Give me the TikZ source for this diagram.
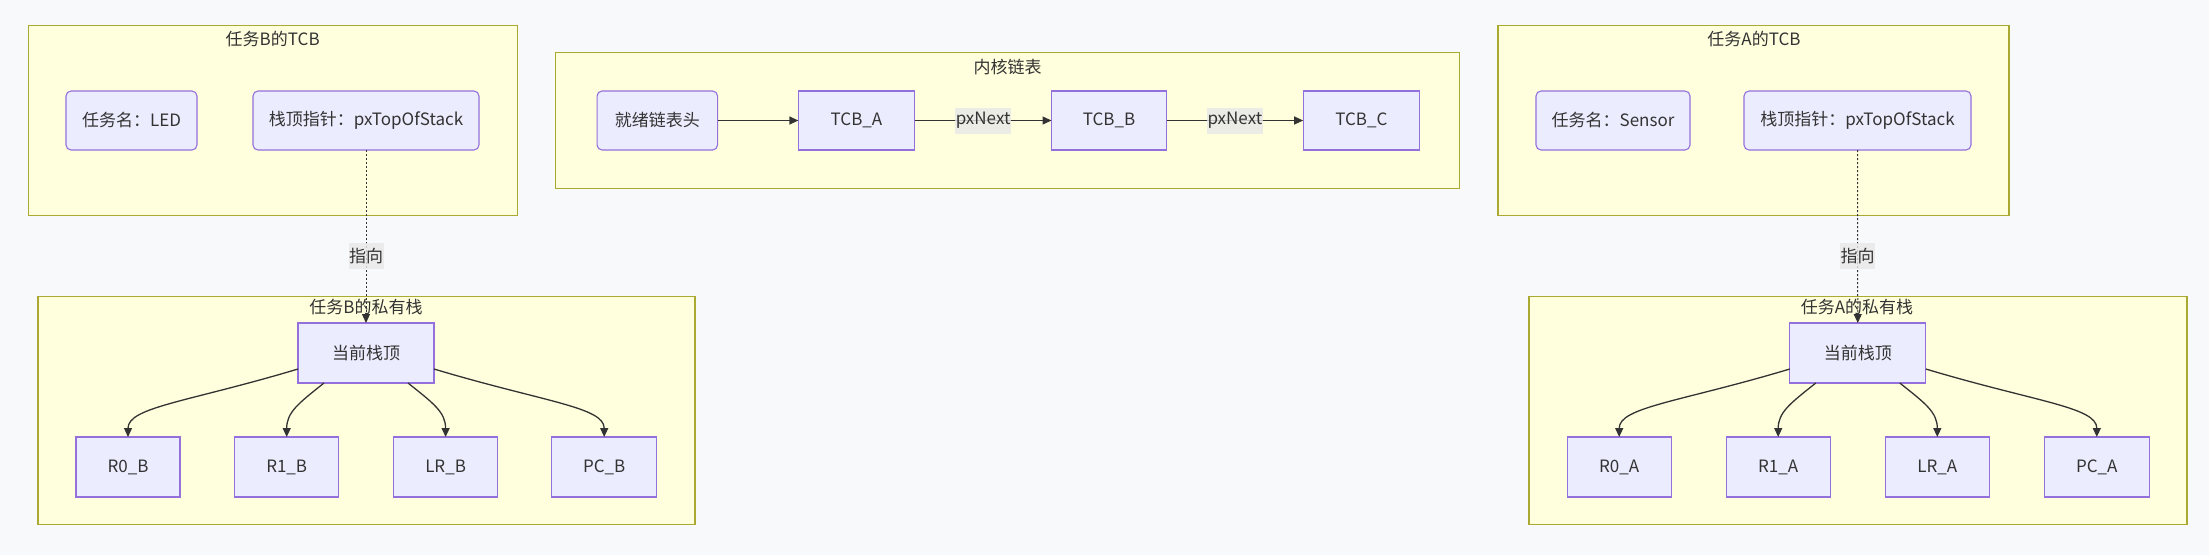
\documentclass[tikz,border=0pt]{standalone}
\usepackage{fontspec}
\setmainfont{Noto Sans CJK SC}
\usetikzlibrary{arrows.meta}
\definecolor{bgc}{HTML}{F8F9FA}
\definecolor{clfill}{HTML}{FFFFDE}
\definecolor{cldraw}{HTML}{AAAA33}
\definecolor{ndfill}{HTML}{ECECFF}
\definecolor{nddraw}{HTML}{9370DB}
\definecolor{edgec}{HTML}{333333}
\definecolor{txtc}{HTML}{333333}
\definecolor{lblbg}{HTML}{E8E8E8}
\begin{document}
\begin{tikzpicture}[x=1pt,y=-1pt,
  base/.style={inner sep=0pt, outer sep=0pt, text=txtc, font=\fontsize{17pt}{20pt}\selectfont},
  cluster/.style={base, draw=cldraw, fill=clfill, line width=1.1pt},
  ctitle/.style={base},
  box/.style={base, draw=nddraw, fill=ndfill, line width=1.1pt, minimum height=59pt},
  rbox/.style={box, rounded corners=5pt},
  edge/.style={draw=edgec, line width=1.3pt, -{Triangle[length=9pt,width=8pt]}},
  dotedge/.style={draw=edgec, line width=1pt, dash pattern=on 2pt off 2pt, -{Triangle[length=9pt,width=8pt]}},
  lbl/.style={base, fill=lblbg, fill opacity=0.8, text opacity=1, inner xsep=0.5pt, minimum height=26pt}
]
\fill[bgc] (0,0) rectangle (2209,555);
\useasboundingbox (0,0) rectangle (2209,555);

% ---- clusters ----
\node[cluster, minimum width=489pt, minimum height=190pt] (cTB) at (272.9,120.5) {};
\node[ctitle] (tTB) at (272.7,39) {任务B的TCB};
\node[cluster, minimum width=657pt, minimum height=228pt] (cSB) at (366.5,410.2) {};
\node[ctitle] (tSB) at (366,307) {任务B的私有栈};
\node[cluster, minimum width=904pt, minimum height=135.6pt] (cK) at (1007.6,120.5) {};
\node[ctitle] (tK) at (1007.6,67) {内核链表};
\node[cluster, minimum width=511pt, minimum height=190pt] (cTA) at (1753.5,120.5) {};
\node[ctitle] (tTA) at (1754,39) {任务A的TCB};
\node[cluster, minimum width=658pt, minimum height=228pt] (cSA) at (1858,410.2) {};
\node[ctitle] (tSA) at (1857,307) {任务A的私有栈};

% ---- task B TCB ----
\node[rbox, minimum width=131pt] (nameB) at (131.5,120.5) {任务名：LED};
\node[rbox, minimum width=226pt] (topB) at (366,120.5) {栈顶指针：pxTopOfStack};

% ---- task B stack ----
\node[box, minimum width=136pt, minimum height=60pt] (curB) at (366,353) {当前栈顶};
\node[box, minimum width=104pt, minimum height=60pt] (r0B) at (128,467) {R0\_B};
\node[box, minimum width=104pt, minimum height=60pt] (r1B) at (286.7,467) {R1\_B};
\node[box, minimum width=104pt, minimum height=60pt] (lrB) at (445.6,467) {LR\_B};
\node[box, minimum width=105pt, minimum height=60pt] (pcB) at (604.2,467) {PC\_B};

% ---- kernel list ----
\node[rbox, minimum width=120.5pt] (head) at (657.3,120.5) {就绪链表头};
\node[box, minimum width=116.3pt] (tcbA) at (856.5,120.5) {TCB\_A};
\node[box, minimum width=115pt] (tcbB) at (1109,120.5) {TCB\_B};
\node[box, minimum width=116.3pt] (tcbC) at (1361.3,120.5) {TCB\_C};

% ---- task A TCB ----
\node[rbox, minimum width=154pt] (nameA) at (1613,120.5) {任务名：Sensor};
\node[rbox, minimum width=227pt] (topA) at (1857.5,120.5) {栈顶指针：pxTopOfStack};

% ---- task A stack ----
\node[box, minimum width=136pt, minimum height=60pt] (curA) at (1857.8,353) {当前栈顶};
\node[box, minimum width=104pt, minimum height=60pt] (r0A) at (1619.2,467) {R0\_A};
\node[box, minimum width=104pt, minimum height=60pt] (r1A) at (1778.2,467) {R1\_A};
\node[box, minimum width=104pt, minimum height=60pt] (lrA) at (1937.3,467) {LR\_A};
\node[box, minimum width=105pt, minimum height=60pt] (pcA) at (2096.8,467) {PC\_A};

% ---- edges: kernel list ----
\draw[edge] (head) -- (tcbA);
\draw[edge] (tcbA) -- node[lbl] (l1) {pxNext} (tcbB);
\draw[edge] (tcbB) -- node[lbl] (l2) {pxNext} (tcbC);

% ---- edges: pointers ----
\draw[dotedge] (topB) -- node[lbl, pos=0.61] (pB) {指向} (curB);
\draw[dotedge] (topA) -- node[lbl, pos=0.61] (pA) {指向} (curA);

% ---- edges: stack B ----
\draw[edge] ([yshift=-16pt]curB.west) .. controls +(-110,33) and +(0,-30) .. (r0B.north);
\draw[edge] ([xshift=-42pt]curB.south) .. controls +(-25,20) and +(0,-25) .. (r1B.north);
\draw[edge] ([xshift=42pt]curB.south) .. controls +(25,20) and +(0,-25) .. (lrB.north);
\draw[edge] ([yshift=-16pt]curB.east) .. controls +(110,33) and +(0,-30) .. (pcB.north);

% ---- edges: stack A ----
\draw[edge] ([yshift=-16pt]curA.west) .. controls +(-110,33) and +(0,-30) .. (r0A.north);
\draw[edge] ([xshift=-42pt]curA.south) .. controls +(-25,20) and +(0,-25) .. (r1A.north);
\draw[edge] ([xshift=42pt]curA.south) .. controls +(25,20) and +(0,-25) .. (lrA.north);
\draw[edge] ([yshift=-16pt]curA.east) .. controls +(110,33) and +(0,-30) .. (pcA.north);
\end{tikzpicture}
\end{document}
